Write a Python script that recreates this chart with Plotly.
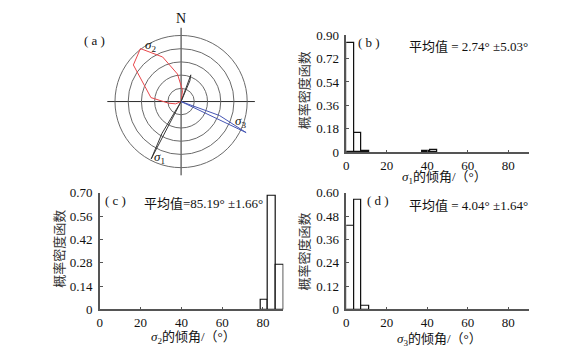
import plotly.graph_objects as go

W, H = 584, 357
FONT = "Liberation Serif, Noto Sans CJK SC, serif"

# ---- data ----
# rose diagram (azimuth deg, relative length)
s2_az = [232.5, 247.5, 262.5, 277.5, 292.5, 307.5, 322.5, 337.5, 352.5, 7.5, 22.5]
s2_r = [0, 0.45, 0.95, 2.3, 2.95, 4.55, 5.05, 3.65, 2.1, 0.85, 0]
s1_az = [0, 20, 23, 0, 211, 207.5, 0]
s1_r = [0, 2.15, 1.7, 0, 2.8, 4.9, 0]
s3_az = [0, 110, 115.5, 0]
s3_r = [0, 3.1, 5.45, 0]

bin_w = 3.75
b_x = [0, 3.75, 7.5, 37.5, 41.25]
b_y = [0.84, 0.147, 0.01, 0.012, 0.02]
c_x = [78.75, 82.5, 86.25]
c_y = [0.058, 0.685, 0.269]
d_x = [0, 3.75, 7.5]
d_y = [0.431, 0.5625, 0.02]

x_ticks = [0, 20, 40, 60, 80]
b_ticks = [0, 0.18, 0.36, 0.54, 0.72, 0.90]
c_ticks = [0, 0.14, 0.28, 0.42, 0.56, 0.70]
d_ticks = [0, 0.12, 0.24, 0.36, 0.48, 0.60]

def fmt(v):
    return "0" if v == 0 else f"{v:.2f}"

def px(x):
    return x / W

def py(y):
    return 1 - y / H

fig = go.Figure()

# ---- polar rose ----
fig.add_trace(go.Scatterpolar(r=s2_r, theta=s2_az, mode="lines",
                              line=dict(color="#e8474b", width=1), subplot="polar"))
fig.add_trace(go.Scatterpolar(r=s1_r, theta=s1_az, mode="lines",
                              line=dict(color="#3a3a3a", width=1), subplot="polar"))
fig.add_trace(go.Scatterpolar(r=s3_r, theta=s3_az, mode="lines",
                              line=dict(color="#4656b4", width=1), subplot="polar"))

fig.update_layout(polar=dict(
    domain=dict(x=[px(102), px(256)], y=[py(175.7), py(21.7)]),
    bgcolor="rgba(0,0,0,0)",
    radialaxis=dict(range=[0, 5.58], tickvals=[1, 2, 3, 4, 5], showticklabels=False,
                    ticks="", showline=False, gridcolor="#6a6a6a", gridwidth=1),
    angularaxis=dict(direction="clockwise", rotation=90, tickvals=[0, 90, 180, 270],
                     showticklabels=False, ticks="", showline=False,
                     gridcolor="#2a2a2a", gridwidth=1.2),
))

# ---- histograms ----
panels = [
    ("x2", "y2", b_x, b_y, b_ticks, [px(345), px(528.3)], [py(151.7), py(29.3)]),
    ("x3", "y3", c_x, c_y, c_ticks, [px(97.3), px(281.8)], [py(315.7), py(194)]),
    ("x4", "y4", d_x, d_y, d_ticks, [px(345), px(528.3)], [py(315.7), py(194)]),
]
for xa, ya, xs, ys, yt, dx, dy in panels:
    fig.add_trace(go.Bar(x=xs, y=ys, width=bin_w, offset=0, xaxis=xa, yaxis=ya,
                         marker=dict(color="white", line=dict(color="#111", width=1.2))))
    axis_common = dict(showline=True, linecolor="#555", linewidth=1.5, ticks="inside",
                       ticklen=3, tickcolor="#555", showgrid=False, zeroline=False,
                       tickfont=dict(family=FONT, size=13, color="#111"))
    xkey = "xaxis" + xa[1:]
    ykey = "yaxis" + ya[1:]
    fig.update_layout(**{
        xkey: dict(domain=dx, anchor=ya, range=[0, 90], tickvals=x_ticks, **axis_common),
        ykey: dict(domain=dy, anchor=xa, range=[0, yt[-1]], tickvals=yt,
                   ticktext=[fmt(v) for v in yt], ticklabelstandoff=3, **axis_common),
    })

ann = []
def text(x, y, s, size=13, angle=0, color="#111"):
    ann.append(dict(x=px(x), y=py(y), xref="paper", yref="paper", text=s, showarrow=False,
                    textangle=angle, font=dict(family=FONT, size=size, color=color),
                    xanchor="center", yanchor="middle"))

text(179, 12.5, "N", 14)
text(91.7, 35, "( a )", 13)
text(148, 40, "<i>σ</i><sub>2</sub>", 13)
text(239, 120, "<i>σ</i><sub>3</sub>", 13)
text(157, 157, "<i>σ</i><sub>1</sub>", 13)

text(368, 36.7, "( b )", 13)
text(113.3, 201.7, "( c )", 13)
text(376.7, 201.7, "( d )", 13)

text(468, 41.7, "平均值 = 2.74° ±5.03°", 13)
text(201.7, 205, "平均值=85.19° ±1.66°", 13)
text(468.3, 206.7, "平均值 = 4.04° ±1.64°", 13)

text(443.3, 177.5, "<i>σ</i><sub>1</sub>的倾角/（°）", 13)
text(191.7, 344.5, "<i>σ</i><sub>2</sub>的倾角/（°）", 13)
text(438.3, 346.7, "<i>σ</i><sub>3</sub>的倾角/（°）", 13)

text(302.7, 86.7, "概率密度函数", 13, -90, "#333")
text(56.7, 252, "概率密度函数", 13, -90, "#333")
text(302.7, 255, "概率密度函数", 13, -90, "#333")

fig.update_layout(annotations=ann, width=W, height=H, showlegend=False,
                  margin=dict(l=0, r=0, t=0, b=0), paper_bgcolor="white",
                  plot_bgcolor="white", bargap=0)

fig.write_html("out.html", config={"displayModeBar": False},
               post_script="document.body.style.margin='0';document.body.style.overflow='hidden';")
